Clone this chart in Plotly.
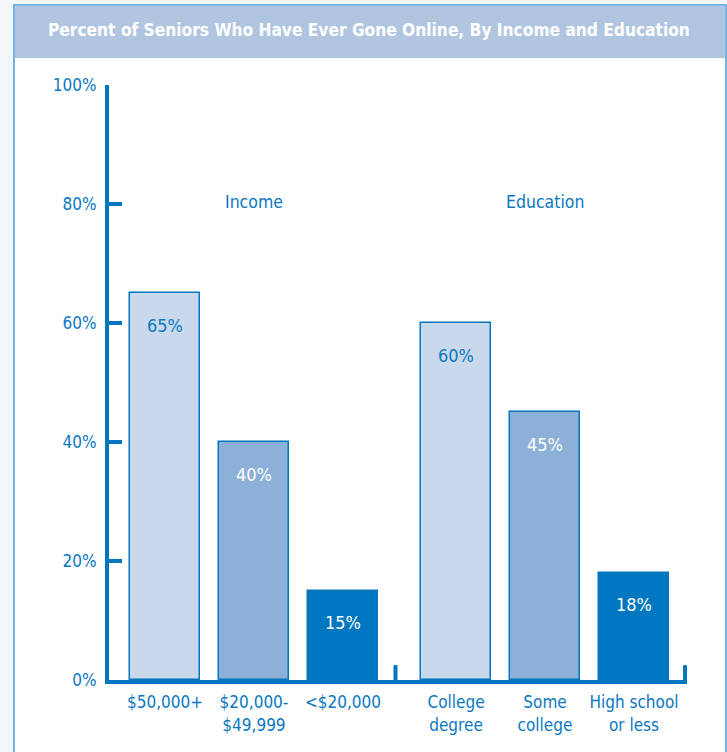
import plotly.graph_objects as go

# ---- data ----
income_labels = ["$50,000+", "$20,000-<br>$49,999", "<$20,000"]
income_values = [65, 40, 15]
education_labels = ["College<br>degree", "Some<br>college", "High school<br>or less"]
education_values = [60, 45, 18]
group_names = ["Income", "Education"]
y_ticks = [0, 20, 40, 60, 80, 100]
y_tick_labels = ["0%", "20%", "40%", "60%", "80%", "100%"]
title_text = "Percent of Seniors Who Have Ever Gone Online, By Income and Education"

# ---- styling ----
BLUE = "#0a78c2"
LIGHT = "#c9d9eb"
MID = "#8cb0d8"
DARK = "#0077c0"
FONT = "DejaVu Sans Condensed, Liberation Sans Narrow, Arial Narrow, sans-serif"
GAP = 0.27

W, H = 727, 752
ML, MR, MT, MB = 109, 40, 85, 72
PW = W - ML - MR
PH = H - MT - MB

groups = [(income_labels, income_values), (education_labels, education_values)]
xs, vals, labs, cols, txtcols = [], [], [], [], []
shade = [LIGHT, MID, DARK]
tcol = [BLUE, "white", "white"]
group_centers = []
i = 0
for g, (labels, values) in enumerate(groups):
    pos = []
    for j, (l, v) in enumerate(zip(labels, values)):
        x = i + GAP * g
        xs.append(x); vals.append(v); labs.append(l)
        cols.append(shade[j]); txtcols.append(tcol[j])
        pos.append(x)
        i += 1
    group_centers.append(sum(pos) / len(pos))

x0 = -0.629
x1 = x0 + PW / 89.0


def px_to_paper_x(px):
    return (px - ML) / PW


def px_to_paper_y(py):
    return (H - MB - py) / PH


fig = go.Figure()
fig.add_trace(go.Bar(
    x=xs, y=vals, width=0.787,
    marker=dict(color=cols, line=dict(color=DARK, width=1.5)),
    hoverinfo="skip", showlegend=False,
))

annotations = []
for x, v, c in zip(xs, vals, txtcols):
    annotations.append(dict(x=x, y=v, xref="x", yref="y", text=f"{v}%",
                            showarrow=False, yshift=-32,
                            font=dict(family=FONT, size=18, color=c)))
for name, cx in zip(group_names, group_centers):
    annotations.append(dict(x=cx, y=80.3, xref="x", yref="y", text=name,
                            showarrow=False,
                            font=dict(family=FONT, size=17.5, color=BLUE)))
annotations.append(dict(x=px_to_paper_x(369), y=px_to_paper_y(30), xref="paper", yref="paper",
                        text="<b>" + title_text + "</b>", showarrow=False,
                        xanchor="center", yanchor="middle",
                        font=dict(family=FONT, size=17.2, color="white")))

shapes = [
    # panel
    dict(type="rect", xref="paper", yref="paper", layer="below",
         x0=px_to_paper_x(14), x1=px_to_paper_x(726),
         y0=px_to_paper_y(760), y1=px_to_paper_y(5),
         fillcolor="white", line=dict(color="#4b9bd6", width=1.5)),
    # title band
    dict(type="rect", xref="paper", yref="paper", layer="below",
         x0=px_to_paper_x(14.8), x1=px_to_paper_x(725.2),
         y0=px_to_paper_y(58), y1=px_to_paper_y(5.8),
         fillcolor="#b0c6e0", line=dict(width=0)),
]
# separator ticks on x axis
sep_x = [(xs[2] + xs[3]) / 2 - 0.045, x1 - 0.022]
for sx in sep_x:
    shapes.append(dict(type="line", xref="x", yref="y", x0=sx, x1=sx, y0=0, y1=2.5,
                       line=dict(color=DARK, width=4)))

fig.update_layout(
    width=W, height=H,
    margin=dict(l=ML, r=MR, t=MT, b=MB, pad=0),
    paper_bgcolor="#f2f5fa",
    plot_bgcolor="rgba(0,0,0,0)",
    font=dict(family=FONT, color=BLUE),
    annotations=annotations,
    shapes=shapes,
    bargap=0,
    xaxis=dict(range=[x0, x1], showgrid=False, zeroline=False,
               showline=True, linewidth=4, linecolor=DARK,
               tickmode="array", tickvals=xs, ticktext=labs, ticks="",
               tickfont=dict(family=FONT, size=17, color=BLUE),
               ticklabelstandoff=4,
               fixedrange=True),
    yaxis=dict(range=[0, 100], showgrid=False, zeroline=False,
               showline=True, linewidth=4, linecolor=DARK,
               tickmode="array", tickvals=y_ticks, ticktext=y_tick_labels,
               ticks="inside", ticklen=13, tickwidth=4, tickcolor=DARK,
               tickfont=dict(family=FONT, size=17, color=BLUE),
               ticklabelstandoff=5,
               fixedrange=True),
)

fig.write_html("out.html", config={"displayModeBar": False},
               post_script="document.body.style.margin='0';document.body.style.padding='0';")
